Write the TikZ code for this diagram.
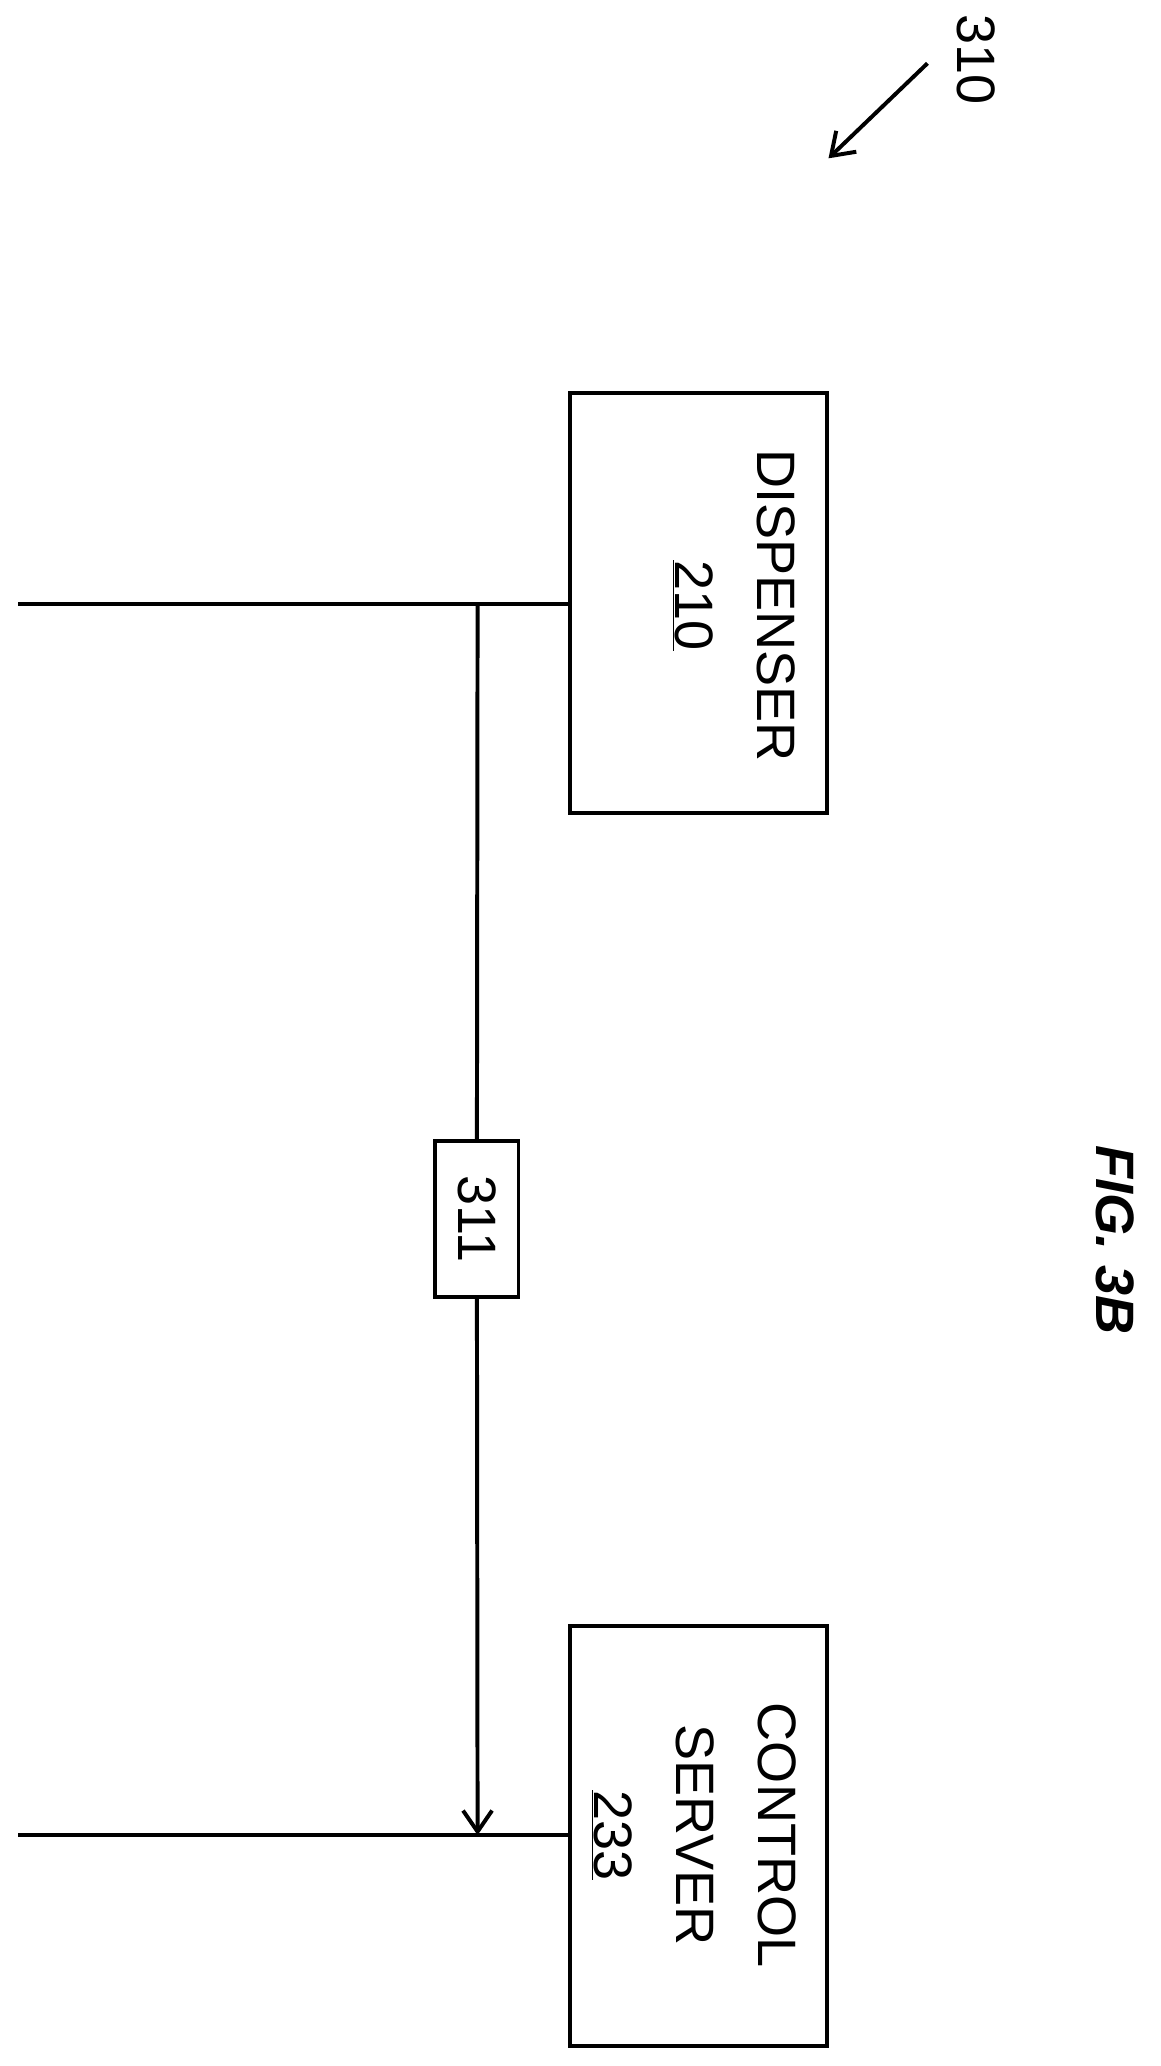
\documentclass[tikz,border=0pt]{standalone}
\usepackage{fontspec}
\setmainfont{Liberation Sans}
\usetikzlibrary{arrows.meta}
\begin{document}
\begin{tikzpicture}[x=1pt,y=-1pt,
  box/.style={draw,line width=3pt,minimum width=195pt,minimum height=318pt,inner sep=0pt},
  wire/.style={line width=3pt},
  lbl/.style={font=\fontsize{41}{62}\selectfont,rotate=-90,align=center}]
\useasboundingbox (0,0) rectangle (880,1566);
\node[box] (disp) at (529.5,457) {};
\node[box] (ctrl) at (529.5,1391.5) {};
\node[lbl] at (556,459) {DISPENSER\\\underline{210}};
\node[lbl] at (526,1391) {CONTROL\\SERVER\\\underline{233}};
\coordinate (l1) at (14,458);
\coordinate (l2) at (14,1391);
\coordinate (j1) at (362,458);
\coordinate (j2) at (362,1391);
\draw[wire] (l1) -- (disp.west|-l1);
\draw[wire] (l2) -- (ctrl.west|-l2);
\node[draw,line width=3pt,minimum width=63pt,minimum height=118pt,inner sep=0pt] (b311) at (361.5,924) {};
\node[lbl] at (b311) {311};
\draw[wire] (j1) -- (b311.north);
\draw[wire,-{Straight Barb[length=16pt,width=22pt,line width=3pt]}] (b311.south) -- (j2);
\node[font=\fontsize{41}{46}\selectfont\bfseries\itshape,rotate=-90] (fig) at (845,940) {FIG. 3B};
\node[font=\fontsize{41}{46}\selectfont,rotate=-90] (n310) at (740,45) {310};
\coordinate (a1) at (703,48);
\coordinate (a2) at (628,120);
\draw[wire,-{Straight Barb[length=16pt,width=22pt,line width=3pt]}] (a1) -- (a2);
\end{tikzpicture}
\end{document}
